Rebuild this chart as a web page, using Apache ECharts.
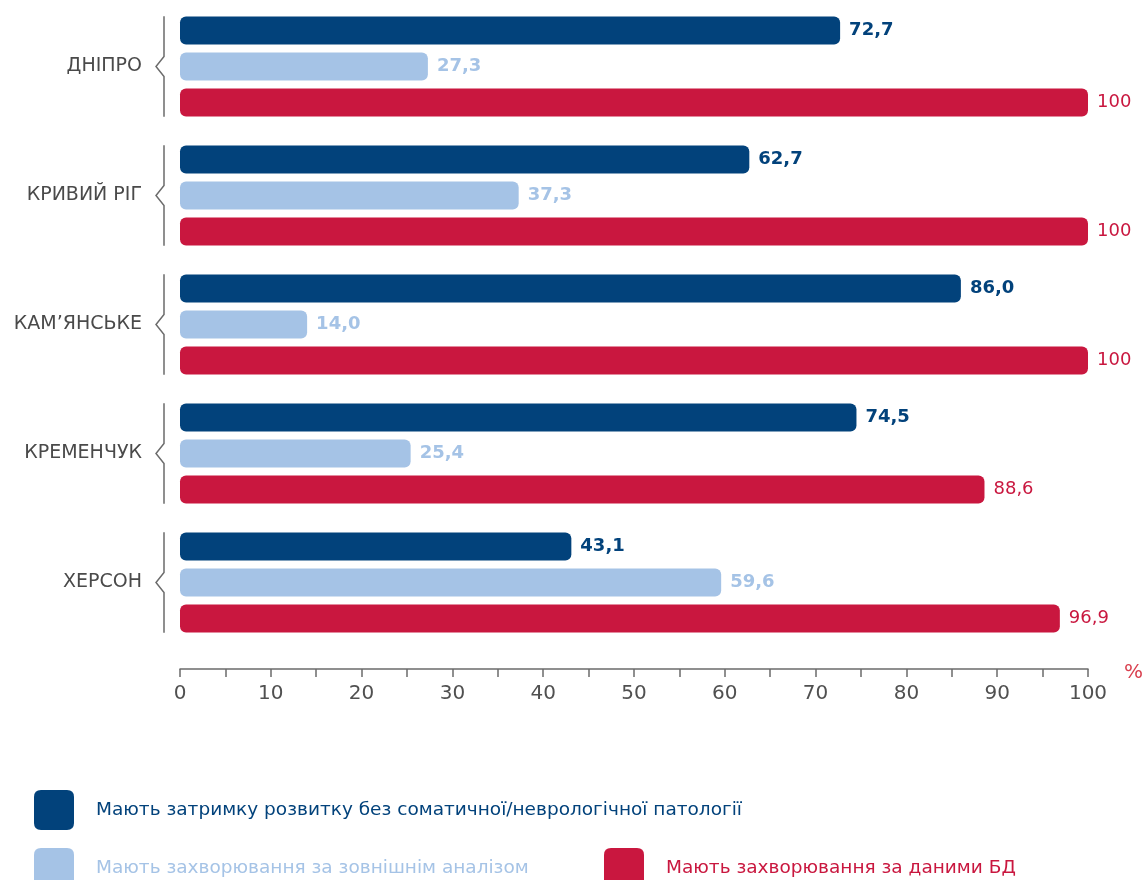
<!DOCTYPE html>
<html>
<head>
<meta charset="utf-8">
<script src="https://cdn.jsdelivr.net/npm/echarts@6/dist/echarts.min.js"></script>
<style>
html,body{margin:0;padding:0;background:#fff;}
#chart{width:1146px;height:880px;}
</style>
</head>
<body>
<div id="chart"></div>
<script>
const categories = ['ДНІПРО', 'КРИВИЙ РІГ', 'КАМ’ЯНСЬКЕ', 'КРЕМЕНЧУК', 'ХЕРСОН'];
const seriesNames = [
  'Мають затримку розвитку без соматичної/неврологічної патології',
  'Мають захворювання за зовнішнім аналізом',
  'Мають захворювання за даними БД'
];
const delayValues = [72.7, 62.7, 86.0, 74.5, 43.1];
const externalValues = [27.3, 37.3, 14.0, 25.4, 59.6];
const dbValues = [100, 100, 100, 88.6, 96.9];
const colors = ['#02427b', '#a5c3e6', '#c9173f'];
const FONT = '"DejaVu Sans", sans-serif';

const chart = echarts.init(document.getElementById('chart'), null, {renderer: 'canvas'});

function fmt(p) {
  return p.value === 100 ? '100' : p.value.toFixed(1).replace('.', ',');
}

function barSeries(i, data) {
  return {
    name: seriesNames[i],
    type: 'bar',
    data: data,
    barWidth: 28,
    barGap: '28.6%',
    itemStyle: {color: colors[i], borderRadius: 6},
    label: {
      show: true, position: 'right', distance: 9,
      formatter: fmt, color: colors[i],
      fontFamily: FONT, fontSize: 18, fontWeight: i === 2 ? 'normal' : 'bold'
    }
  };
}

const bracketSeries = {
  type: 'custom',
  silent: true,
  data: categories.map((c, i) => [0, i]),
  encode: {x: 0, y: 1},
  z: 1,
  renderItem: function (params, api) {
    const pt = api.coord([0, api.value(1)]);
    const band = api.size([0, 1])[1];
    const x = pt[0] - 16;
    const y = pt[1];
    const h = band * 0.39;
    return {
      type: 'polyline',
      shape: {points: [[x, y - h], [x, y - 10], [x - 8, y], [x, y + 10], [x, y + h]]},
      style: {stroke: '#6b6b6b', lineWidth: 1.5, fill: null}
    };
  }
};

function legendAt(idx, left, top) {
  return {
    data: [{name: seriesNames[idx], textStyle: {color: colors[idx]}}],
    left: left, top: top, padding: 0,
    itemWidth: 40, itemHeight: 40, itemGap: 22,
    icon: 'path://M7,0 H33 Q40,0 40,7 V33 Q40,40 33,40 H7 Q0,40 0,33 V7 Q0,0 7,0 Z',
    textStyle: {fontFamily: FONT, fontSize: 18.5, padding: [0, 0, 0, 17]},
    selectedMode: false
  };
}

chart.setOption({
  backgroundColor: '#ffffff',
  animation: false,
  grid: {left: 180, right: 56, top: 2, height: 645, containLabel: false},
  xAxis: {
    type: 'value', min: 0, max: 100, interval: 10,
    position: 'bottom', offset: 22,
    name: '%', nameLocation: 'end', nameGap: 36,
    nameTextStyle: {color: '#d9404f', fontFamily: FONT, fontSize: 20, verticalAlign: 'top', padding: [-6, 0, 0, 0]},
    axisLine: {show: true, lineStyle: {color: '#6b6b6b', width: 1.5}},
    axisTick: {show: true, length: 8, lineStyle: {color: '#6b6b6b', width: 1.5}},
    minorTick: {show: true, splitNumber: 2, length: 8, lineStyle: {color: '#6b6b6b', width: 1.5}},
    axisLabel: {color: '#505050', fontFamily: FONT, fontSize: 20, margin: 15},
    splitLine: {show: false}
  },
  yAxis: {
    type: 'category', data: categories, inverse: true,
    axisLine: {show: false}, axisTick: {show: false},
    axisLabel: {color: '#4a4a4a', fontFamily: FONT, fontSize: 19, margin: 38}
  },
  legend: [
    legendAt(0, 34, 790),
    legendAt(1, 34, 848),
    legendAt(2, 604, 848)
  ],
  series: [
    barSeries(0, delayValues),
    barSeries(1, externalValues),
    barSeries(2, dbValues),
    bracketSeries
  ]
});
</script>
</body>
</html>
